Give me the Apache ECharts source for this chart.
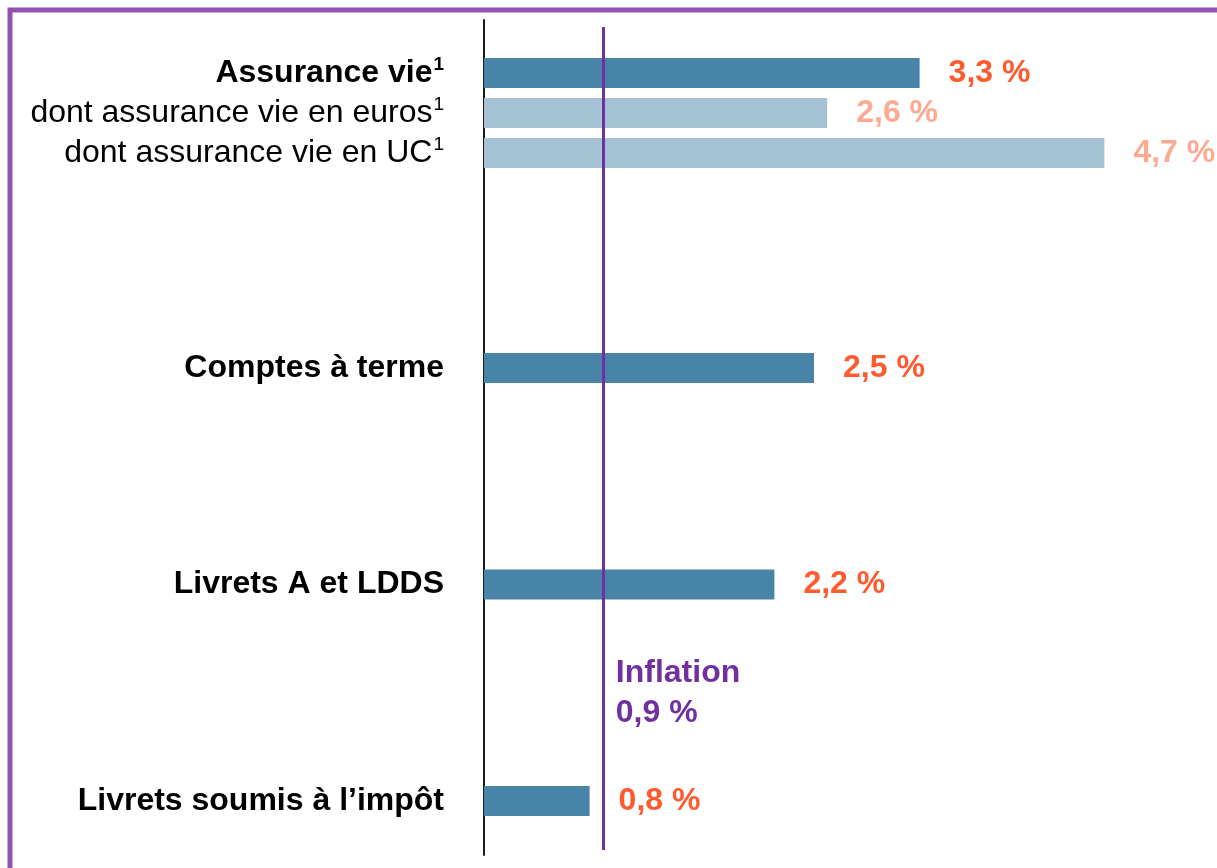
<!DOCTYPE html>
<html>
<head>
<meta charset="utf-8">
<script src="https://cdn.jsdelivr.net/npm/echarts@6/dist/echarts.min.js"></script>
<style>
  html, body { margin: 0; padding: 0; background: #fff; }
  #chart { width: 1217px; height: 868px; }
</style>
</head>
<body>
<div id="chart"></div>
<script>
// Rendements 2024 des placements (en %)
const categoriesTop = ['Assurance vie', 'dont assurance vie en euros', 'dont assurance vie en UC'];
const notesTop = ['1', '1', '1'];
const valuesTop = [3.3, 2.6, 4.7];
const categoriesBottom = ['Comptes à terme', 'Livrets A et LDDS', 'Livrets soumis à l’impôt'];
const valuesBottom = [2.5, 2.2, 0.8];
const inflation = 0.9;

const FONT = '"Liberation Sans", Arial, sans-serif';
const DARK_BAR = '#4884A8';
const LIGHT_BAR = '#A5C1D4';
const DARK_LABEL = '#FF5A2D';
const LIGHT_LABEL = '#FDAA93';
const PURPLE = '#7030A0';
const FS = 32;

const X_MAX = 5.5;
const GRID_LEFT = 484;
const GRID_WIDTH = 726;

const fmt = v => v.toFixed(1).replace('.', ',') + ' %';
const isSub = name => name.startsWith('dont');

function barData(cats, vals) {
  return vals.map((v, i) => {
    const sub = isSub(cats[i]);
    return {
      value: v,
      itemStyle: { color: sub ? LIGHT_BAR : DARK_BAR },
      label: { color: sub ? LIGHT_LABEL : DARK_LABEL }
    };
  });
}

function valueAxis(gridIndex) {
  return { type: 'value', gridIndex, min: 0, max: X_MAX, show: false };
}

function catAxis(gridIndex, cats, notes) {
  return {
    type: 'category', gridIndex, data: cats, inverse: true, boundaryGap: false,
    axisLine: { show: false }, axisTick: { show: false }, splitLine: { show: false },
    axisLabel: {
      margin: 40,
      formatter: (v, i) => {
        const w = isSub(v) ? 'n' : 'b';
        const note = notes ? '{' + w + 's|' + notes[i] + '}' : '';
        return '{' + w + '|' + v + '}' + note;
      },
      rich: {
        b: { fontFamily: FONT, fontSize: FS, fontWeight: 'bold', color: '#000', height: 36 },
        n: { fontFamily: FONT, fontSize: FS, fontWeight: 'normal', color: '#000', height: 36 },
        bs: { fontFamily: FONT, fontSize: 19, fontWeight: 'bold', color: '#000', verticalAlign: 'top', padding: [0, 0, 14, 1] },
        ns: { fontFamily: FONT, fontSize: 19, fontWeight: 'normal', color: '#000', verticalAlign: 'top', padding: [0, 0, 14, 1] }
      }
    }
  };
}

const barLabel = {
  show: true, position: 'right', distance: 29,
  fontFamily: FONT, fontSize: FS, fontWeight: 'bold',
  formatter: p => fmt(p.value)
};

const option = {
  backgroundColor: '#fff',
  animation: false,
  grid: [
    { left: GRID_LEFT, width: GRID_WIDTH, top: 20, height: 835 },   // axis line
    { left: GRID_LEFT, width: GRID_WIDTH, top: 73, height: 80 },    // assurance vie
    { left: GRID_LEFT, width: GRID_WIDTH, top: 368, height: 433 },  // comptes & livrets
    { left: GRID_LEFT, width: GRID_WIDTH, top: 27, height: 823 }    // inflation
  ],
  xAxis: [valueAxis(0), valueAxis(1), valueAxis(2), valueAxis(3)],
  yAxis: [
    {
      type: 'value', gridIndex: 0, min: 0, max: 1,
      axisLine: { show: true, lineStyle: { color: '#1a1a1a', width: 2 } },
      axisTick: { show: false }, axisLabel: { show: false }, splitLine: { show: false }
    },
    catAxis(1, categoriesTop, notesTop),
    catAxis(2, categoriesBottom, null),
    { type: 'value', gridIndex: 3, min: 0, max: 1, inverse: true, show: false }
  ],
  graphic: [
    {
      type: 'polyline', silent: true,
      shape: { points: [[10, 868], [10, 10], [1217, 10]] },
      style: { stroke: '#9152B2', lineWidth: 5, fill: null }
    }
  ],
  series: [
    {
      type: 'bar', xAxisIndex: 1, yAxisIndex: 1, barWidth: 30, clip: false,
      data: barData(categoriesTop, valuesTop), label: barLabel, z: 2
    },
    {
      type: 'bar', xAxisIndex: 2, yAxisIndex: 2, barWidth: 30, clip: false,
      data: barData(categoriesBottom, valuesBottom), label: barLabel, z: 2
    },
    {
      type: 'scatter', xAxisIndex: 3, yAxisIndex: 3, data: [], z: 5,
      markLine: {
        silent: true, symbol: 'none',
        lineStyle: { color: PURPLE, width: 3, type: 'solid' },
        label: { show: false },
        data: [{ xAxis: inflation }]
      },
      markPoint: {
        silent: true, symbol: 'circle', symbolSize: 0,
        label: {
          show: true, position: 'right', distance: 13,
          fontFamily: FONT, fontSize: FS, fontWeight: 'bold', color: PURPLE,
          lineHeight: 40, align: 'left',
          formatter: 'Inflation\n' + fmt(inflation)
        },
        data: [{ coord: [inflation, 0.81] }]
      }
    }
  ]
};

const chart = echarts.init(document.getElementById('chart'), null, { renderer: 'canvas' });
chart.setOption(option);
</script>
</body>
</html>
